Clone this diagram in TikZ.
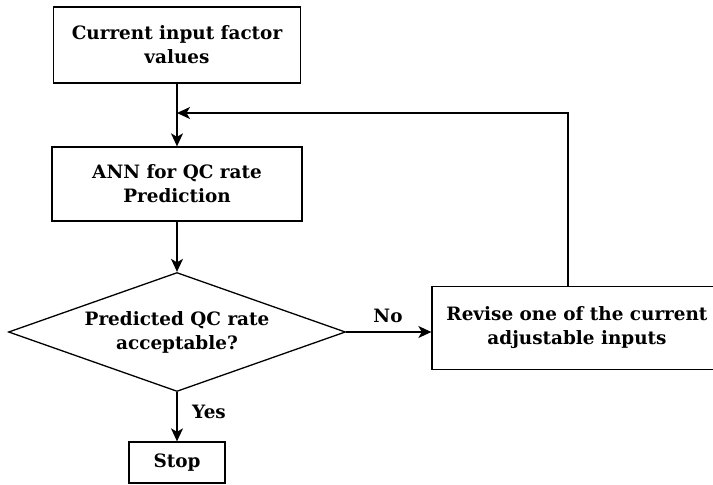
\documentclass[tikz,border=0pt]{standalone}
\usepackage{fontspec}
\setmainfont{DejaVu Serif}
\usetikzlibrary{arrows.meta,shapes.geometric}
\begin{document}
\begin{tikzpicture}[x=1pt,y=-1pt,
  every node/.style={font=\fontsize{18.4}{24}\selectfont\bfseries},
  box/.style={draw,line width=1.3pt,rectangle,inner sep=0pt,align=center},
  decision/.style={draw,line width=1.3pt,diamond,shape aspect=2.83,inner sep=0pt,align=center},
  flow/.style={line width=1.3pt,-{Stealth[length=13pt,width=12pt,inset=3.5pt]}},
  tag/.style={inner sep=0pt}]
  \useasboundingbox (0,0) rectangle (713,485);

  % process steps, centred on one vertical main line
  \node[box,minimum width=247pt,minimum height=76pt] (start) at (177,45)
    {Current input factor\\values};
  \node[box,minimum width=250pt,minimum height=74pt] (ann) at (177,184)
    {ANN for QC rate\\Prediction};
  \node[decision,minimum width=337pt,minimum height=119pt] (check) at (177,332)
    {Predicted QC rate\\acceptable?};
  \node[box,minimum width=290pt,minimum height=83pt] (revise) at (577,328)
    {Revise one of the current\\adjustable inputs};
  \node[box,minimum width=96pt,minimum height=41pt] (stop) at (177,462.5)
    {Stop};

  % point where the loop rejoins the main line
  \coordinate (rejoin) at (177,113);

  \draw[flow] (start) -- (ann);
  \draw[flow] (ann) -- (check);
  \draw[flow] (check.east) -- (revise.west |- check.east);
  \draw[flow] (check) -- (stop);
  \draw[flow] ([xshift=-9pt]revise.north) |- (rejoin);

  % branch labels
  \node[tag] (no) at (388,316) {No};
  \node[tag] (yes) at (209,412) {Yes};
\end{tikzpicture}
\end{document}
